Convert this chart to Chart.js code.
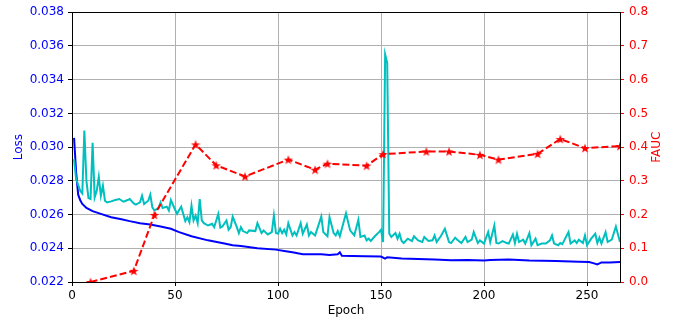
<!DOCTYPE html>
<html>
<head>
<meta charset="utf-8">
<script src="https://cdn.jsdelivr.net/npm/chart.js@4.4.1/dist/chart.umd.min.js"></script>
<style>
  html, body { margin: 0; padding: 0; background: #fff; }
  #wrap { width: 682px; height: 320px; }
</style>
</head>
<body>
<div id="wrap"><canvas id="lossChart" width="682" height="320"></canvas></div>
<script>
/* ---- data ---- */

// training loss (blue)
const trainEpochs = [1, 2, 3, 4, 5, 7, 10, 14, 19, 24, 28, 33, 38, 43, 48, 52, 58, 66, 74, 78, 82, 90, 99, 103,
  107, 112, 121, 125, 129, 130, 131, 142, 150, 152, 153, 160, 168, 176, 184, 192, 200, 203, 212, 222,
  235, 246, 251, 253, 255, 257, 261, 266];
const trainLoss = [0.03055, 0.02850, 0.02718, 0.02685, 0.02663, 0.02639, 0.02620, 0.02604, 0.02584, 0.02572,
  0.02561, 0.02549, 0.02541, 0.02529, 0.02516, 0.02496, 0.02471, 0.02447, 0.02428, 0.02418, 0.02414,
  0.02400, 0.02392, 0.02384, 0.02376, 0.02365, 0.02365, 0.02360, 0.02365, 0.02376, 0.02355, 0.02353,
  0.02351, 0.02339, 0.02347, 0.02339, 0.02336, 0.02333, 0.02329, 0.02330, 0.02328, 0.02330, 0.02333,
  0.02327, 0.02324, 0.02320, 0.02318, 0.02312, 0.02304, 0.02316, 0.02316, 0.02318];

// validation loss (cyan)
const valEpochs = [1, 2, 4, 5, 6, 7, 8, 9, 10, 11, 12, 13, 14, 15, 16, 17, 19, 21, 23, 25, 27, 28, 30, 31, 33,
  34, 35, 37, 38, 39, 40, 42, 43, 44, 46, 47, 48, 50, 51, 52, 53, 55, 56, 57, 58, 59, 60, 61, 62, 63, 64,
  66, 68, 69, 71, 72, 73, 75, 76, 77, 78, 80, 81, 82, 83, 85, 86, 89, 90, 92, 93, 95, 97, 98, 99, 100,
  101, 102, 103, 104, 105, 107, 108, 109, 111, 112, 114, 115, 116, 118, 121, 122, 124, 125, 127, 128,
  129, 130, 133, 135, 137, 139, 140, 142, 143, 144, 145, 147, 149, 150, 151, 152, 153, 154, 155, 157,
  158, 159, 160, 161, 163, 165, 166, 168, 170, 171, 173, 175, 176, 177, 179, 181, 183, 184, 186, 187,
  189, 191, 192, 194, 195, 197, 198, 200, 201, 202, 203, 205, 206, 207, 209, 211, 212, 214, 215, 216,
  217, 219, 220, 222, 223, 225, 226, 228, 230, 232, 233, 234, 236, 237, 238, 241, 242, 244, 245, 246,
  248, 249, 250, 252, 254, 255, 256, 257, 259, 260, 262, 264, 266];
const valLoss = [0.02928, 0.02810, 0.02741, 0.02725, 0.03098, 0.02800, 0.02698, 0.02692, 0.03025, 0.02702,
  0.02741, 0.02824, 0.02712, 0.02771, 0.02682, 0.02672, 0.02678, 0.02686, 0.02692, 0.02676, 0.02686,
  0.02692, 0.02666, 0.02659, 0.02672, 0.02712, 0.02663, 0.02682, 0.02718, 0.02643, 0.02624, 0.02639,
  0.02672, 0.02639, 0.02647, 0.02624, 0.02686, 0.02630, 0.02604, 0.02627, 0.02647, 0.02561, 0.02584,
  0.02555, 0.02653, 0.02565, 0.02594, 0.02549, 0.02692, 0.02565, 0.02549, 0.02535, 0.02545, 0.02525,
  0.02604, 0.02522, 0.02529, 0.02565, 0.02510, 0.02525, 0.02588, 0.02525, 0.02490, 0.02525, 0.02502,
  0.02490, 0.02506, 0.02502, 0.02549, 0.02490, 0.02506, 0.02482, 0.02496, 0.02594, 0.02490, 0.02486,
  0.02516, 0.02490, 0.02510, 0.02482, 0.02549, 0.02476, 0.02496, 0.02476, 0.02549, 0.02486, 0.02541,
  0.02476, 0.02496, 0.02476, 0.02588, 0.02496, 0.02471, 0.02584, 0.02490, 0.02476, 0.02502, 0.02471,
  0.02608, 0.02506, 0.02476, 0.02569, 0.02467, 0.02476, 0.02447, 0.02457, 0.02443, 0.02471, 0.02496,
  0.02510, 0.02437, 0.03550, 0.03500, 0.02486, 0.02467, 0.02490, 0.02457, 0.02486, 0.02443, 0.02431,
  0.02457, 0.02443, 0.02471, 0.02447, 0.02437, 0.02467, 0.02443, 0.02447, 0.02476, 0.02437, 0.02471,
  0.02516, 0.02437, 0.02431, 0.02463, 0.02451, 0.02431, 0.02467, 0.02437, 0.02451, 0.02496, 0.02431,
  0.02447, 0.02428, 0.02463, 0.02496, 0.02437, 0.02535, 0.02431, 0.02428, 0.02443, 0.02431, 0.02428,
  0.02482, 0.02431, 0.02486, 0.02437, 0.02451, 0.02428, 0.02490, 0.02418, 0.02457, 0.02418, 0.02428,
  0.02428, 0.02447, 0.02476, 0.02428, 0.02418, 0.02431, 0.02424, 0.02496, 0.02428, 0.02447, 0.02431,
  0.02451, 0.02431, 0.02476, 0.02418, 0.02457, 0.02486, 0.02431, 0.02463, 0.02428, 0.02496, 0.02437,
  0.02451, 0.02529, 0.02437];

// FAUC (red, right axis)
const faucEpochs = [9, 30, 40, 60, 70, 84, 105, 118, 124, 143, 151, 172, 183, 198, 207, 226, 237, 249, 266];
const faucValues = [0.0, 0.033, 0.199, 0.408, 0.346, 0.313, 0.363, 0.333, 0.351, 0.345, 0.379, 0.387,
  0.387, 0.377, 0.363, 0.380, 0.424, 0.397, 0.403];

// tick labels
const epochTicks = [0, 50, 100, 150, 200, 250];
const lossTicks = [0.022, 0.024, 0.026, 0.028, 0.030, 0.032, 0.034, 0.036, 0.038];
const faucTicks = [0.0, 0.1, 0.2, 0.3, 0.4, 0.5, 0.6, 0.7, 0.8];

/* ---- helpers ---- */

const toXY = (xs, ys) => xs.map((x, i) => ({ x: x, y: ys[i] }));
const setTicks = list => scale => { scale.ticks = list.map(v => ({ value: v })); };
const font = { family: '"DejaVu Sans", sans-serif', size: 12 };

// filled 5-point star, like matplotlib's '*' marker
function makeStar(size, color) {
  const c = document.createElement('canvas');
  c.width = size; c.height = size;
  const g = c.getContext('2d');
  const R = size / 2, r = R * 0.4;
  g.beginPath();
  for (let i = 0; i < 10; i++) {
    const rad = i % 2 === 0 ? R : r;
    const ang = -Math.PI / 2 + i * Math.PI / 5;
    g.lineTo(size / 2 + rad * Math.cos(ang), size / 2 + 0.5 + rad * Math.sin(ang));
  }
  g.closePath();
  g.fillStyle = color;
  g.fill();
  return c;
}
const star = makeStar(10, '#ff0000');

// box around the plot + right axis title (reads bottom to top)
const frame = {
  id: 'frame',
  afterDraw(chart) {
    const { ctx, chartArea: a } = chart;
    ctx.save();
    ctx.strokeStyle = '#000';
    ctx.lineWidth = 1;
    ctx.strokeRect(Math.round(a.left) + 0.5, Math.round(a.top) + 0.5,
      Math.round(a.right - a.left), Math.round(a.bottom - a.top));
    ctx.translate(657, (a.top + a.bottom) / 2);
    ctx.rotate(-Math.PI / 2);
    ctx.fillStyle = '#ff0000';
    ctx.font = font.size + 'px ' + font.family;
    ctx.textAlign = 'center';
    ctx.textBaseline = 'middle';
    ctx.fillText('FAUC', 0, 0);
    ctx.restore();
  }
};

const ctx = document.getElementById('lossChart').getContext('2d');
const lossChart = new Chart(ctx, {
  type: 'line',
  data: {
    datasets: [
      {
        label: 'FAUC',
        data: toXY(faucEpochs, faucValues),
        yAxisID: 'y2',
        borderColor: '#ff0000',
        borderWidth: 2,
        borderDash: [7, 3],
        pointStyle: star,
        pointRadius: 5,
        order: 0,
        clip: 0
      },
      {
        label: 'val loss',
        data: toXY(valEpochs, valLoss),
        yAxisID: 'y',
        borderColor: '#00bfbf',
        borderWidth: 2,
        pointRadius: 0,
        order: 1,
        clip: 0
      },
      {
        label: 'train loss',
        data: toXY(trainEpochs, trainLoss),
        yAxisID: 'y',
        borderColor: '#0000ff',
        borderWidth: 2,
        pointRadius: 0,
        order: 2,
        clip: 0
      }
    ]
  },
  options: {
    responsive: false,
    animation: false,
    layout: { padding: { top: 10, left: 0, right: 0, bottom: 0 } },
    plugins: { legend: { display: false }, tooltip: { enabled: false } },
    elements: { line: { tension: 0 } },
    scales: {
      x: {
        type: 'linear',
        min: 0,
        max: 266,
        afterBuildTicks: setTicks(epochTicks),
        afterFit: s => { s.height = 38; },
        ticks: { color: '#000', font: font, padding: 3, maxRotation: 0 },
        grid: { color: '#b0b0b0', tickColor: '#000', tickLength: 4 },
        border: { display: false },
        title: { display: true, text: 'Epoch', color: '#000', font: font, padding: { top: 0, bottom: 2 } }
      },
      y: {
        position: 'left',
        min: 0.022,
        max: 0.038,
        afterBuildTicks: setTicks(lossTicks),
        afterFit: s => { s.width = 72; },
        ticks: { color: '#0000ff', font: font, padding: 4, callback: v => v.toFixed(3) },
        grid: { color: '#b0b0b0', tickColor: '#000', tickLength: 4 },
        border: { display: false },
        title: { display: true, text: 'Loss', color: '#0000ff', font: font, padding: { top: 12, bottom: 0 } }
      },
      y2: {
        position: 'right',
        min: 0,
        max: 0.8,
        afterBuildTicks: setTicks(faucTicks),
        afterFit: s => { s.width = 62; },
        ticks: { color: '#ff0000', font: font, padding: 5, callback: v => v.toFixed(1) },
        grid: { drawOnChartArea: false, tickColor: '#ff0000', tickLength: 4 },
        border: { display: false }
      }
    }
  },
  plugins: [frame]
});
</script>
</body>
</html>
